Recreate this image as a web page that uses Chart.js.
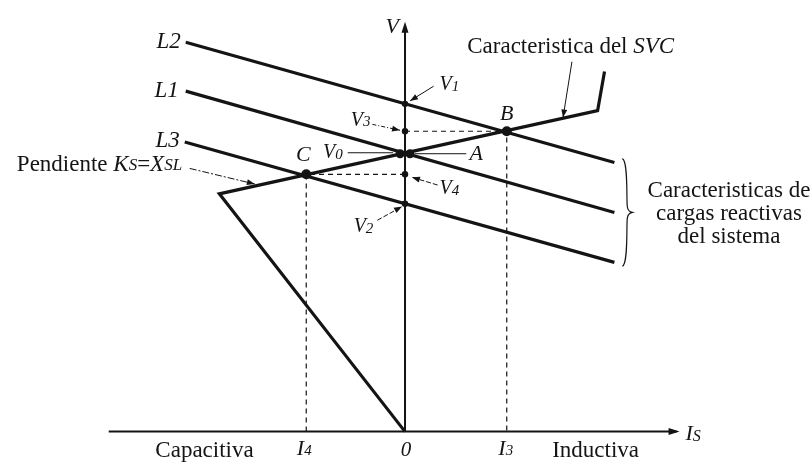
<!DOCTYPE html>
<html>
<head>
<meta charset="utf-8">
<script src="https://cdn.jsdelivr.net/npm/chart.js@4/dist/chart.umd.min.js"></script>
<style>
  html, body { margin: 0; background: #fff; }
  canvas { display: block; }
</style>
</head>
<body>
<canvas id="svcChart" width="812" height="465"></canvas>
<script>
// Coordinates: x = current Is, y = voltage V, both measured from the axes origin
const axisI = [[-300, 0], [275, 0]];
const axisV = [[0, 0], [0, 413]];

// System load lines (L2 highest, L3 lowest)
const lineL2 = [[-222, 398], [212, 275]];
const lineL1 = [[-222, 348], [212, 224]];
const lineL3 = [[-223, 296], [212, 173]];

// SVC characteristic
const svcCurve = [[0, 0], [-188, 243], [195, 328], [202, 368]];

// Operating points
const ptB = [103, 307];
const ptC = [-100, 263];
const levelV0 = 284;
const levelV1 = 335;
const levelV2 = 233;
const levelV3 = 307;
const levelV4 = 263;

// Dashed projections
const guideB = [[0, levelV3], ptB, [ptB[0], 0]];
const guideC = [[0, levelV4], ptC, [ptC[0], 0]];

const INK = '#141414';
const SERIF = "'Liberation Serif', 'DejaVu Serif', serif";

function toXY(arr) { return arr.map(p => ({ x: p[0], y: p[1] })); }

function lineSet(data, width, dash) {
    return {
        data: toXY(data),
        showLine: true,
        borderColor: INK,
        borderWidth: width,
        borderDash: dash || [],
        pointRadius: 0,
        tension: 0,
        fill: false
    };
}

function dotSet(points, radius) {
    return {
        data: toXY(points),
        showLine: false,
        pointRadius: radius,
        pointBackgroundColor: INK,
        pointBorderWidth: 0
    };
}

// Text labels: parts are [text, size, italic, dy]
const labels = [
    { at: [-227, 398], align: 'right', parts: [['L2', 23, true, 0]] },
    { at: [-229, 348], align: 'right', parts: [['L1', 23, true, 0]] },
    { at: [-228, 297], align: 'right', parts: [['L3', 23, true, 0]] },
    { at: [-393, 273], align: 'left', parts: [['Pendiente ', 23, false, 0], ['K', 23, true, 0], ['S', 17, true, 1], ['=', 23, false, 0], ['X', 23, true, 0], ['SL', 17, true, 1]] },
    { at: [-103, 282], align: 'center', parts: [['C', 22, true, 0]] },
    { at: [-83, 285], align: 'left', parts: [['V', 20, true, 0], ['0', 15, true, 2]] },
    { at: [72, 283], align: 'center', parts: [['A', 22, true, 0]] },
    { at: [35, 354], align: 'left', parts: [['V', 20, true, 0], ['1', 15, true, 2]] },
    { at: [-55, 318], align: 'left', parts: [['V', 20, true, 0], ['3', 15, true, 2]] },
    { at: [103, 324], align: 'center', parts: [['B', 22, true, 0]] },
    { at: [35, 248], align: 'left', parts: [['V', 20, true, 0], ['4', 15, true, 2]] },
    { at: [-52, 209], align: 'left', parts: [['V', 20, true, 0], ['2', 15, true, 2]] },
    { at: [-13, 413], align: 'center', parts: [['V', 22, true, 0]] },
    { at: [63, 393], align: 'left', parts: [['Caracteristica del ', 23, false, 0], ['SVC', 23, true, 0]] },
    { at: [328, 246], align: 'center', parts: [['Caracteristicas de', 23, false, 0]] },
    { at: [328, 222], align: 'center', parts: [['cargas reactivas', 23, false, 0]] },
    { at: [328, 199], align: 'center', parts: [['del sistema', 23, false, 0]] },
    { at: [-203, -20], align: 'center', parts: [['Capacitiva', 23, false, 0]] },
    { at: [-102, -18], align: 'center', parts: [['I', 22, true, 0], ['4', 15, true, 2]] },
    { at: [1, -19], align: 'center', parts: [['0', 21, true, 0]] },
    { at: [102, -18], align: 'center', parts: [['I', 22, true, 0], ['3', 15, true, 2]] },
    { at: [193, -20], align: 'center', parts: [['Inductiva', 23, false, 0]] },
    { at: [284, -3], align: 'left', parts: [['I', 22, true, 0], ['S', 16, true, 2]] }
];

// Leader lines: from, to, dash, arrowhead at "to"
const leaders = [
    { from: [-218, 269], to: [-152, 253], dash: [7, 2, 2, 2], head: true },
    { from: [-58, 285], to: [-12, 285], dash: [], head: false },
    { from: [62, 284], to: [10, 284], dash: [], head: false },
    { from: [29, 353], to: [5, 338], dash: [], head: true },
    { from: [-33, 314], to: [-5, 308], dash: [4, 2, 1, 2], head: true },
    { from: [169, 378], to: [160, 321], dash: [], head: true },
    { from: [33, 252], to: [7, 260], dash: [5, 2], head: true },
    { from: [-28, 216], to: [-3, 230], dash: [5, 2], head: true }
];

// Axis arrow tips
const axisTips = [
    { tip: [0, 419], dir: [0, 1] },
    { tip: [278, 0], dir: [1, 0] }
];

// Brace beside the load lines
const brace = { x: 220, top: 279, bottom: 169, mid: 224, depth: 10 };

function drawRich(ctx, parts, x, y, align) {
    let total = 0;
    const widths = parts.map(p => {
        ctx.font = (p[2] ? 'italic ' : '') + p[1] + 'px ' + SERIF;
        const w = ctx.measureText(p[0]).width;
        total += w;
        return w;
    });
    let cx = align === 'right' ? x - total : align === 'center' ? x - total / 2 : x;
    ctx.textAlign = 'left';
    ctx.textBaseline = 'middle';
    parts.forEach((p, i) => {
        ctx.font = (p[2] ? 'italic ' : '') + p[1] + 'px ' + SERIF;
        ctx.fillText(p[0], cx, y + p[3]);
        cx += widths[i];
    });
}

function arrowHead(ctx, x1, y1, x2, y2, len, half) {
    const a = Math.atan2(y2 - y1, x2 - x1);
    ctx.beginPath();
    ctx.moveTo(x2, y2);
    ctx.lineTo(x2 - len * Math.cos(a) + half * Math.sin(a), y2 - len * Math.sin(a) - half * Math.cos(a));
    ctx.lineTo(x2 - len * Math.cos(a) - half * Math.sin(a), y2 - len * Math.sin(a) + half * Math.cos(a));
    ctx.closePath();
    ctx.fill();
}

const annotations = {
    id: 'annotations',
    afterDatasetsDraw(chart) {
        const ctx = chart.ctx;
        const sx = v => chart.scales.x.getPixelForValue(v);
        const sy = v => chart.scales.y.getPixelForValue(v);
        ctx.save();
        ctx.fillStyle = INK;
        ctx.strokeStyle = INK;

        axisTips.forEach(t => {
            const x2 = sx(t.tip[0]), y2 = sy(t.tip[1]);
            const x1 = sx(t.tip[0] - t.dir[0] * 20), y1 = sy(t.tip[1] - t.dir[1] * 20);
            arrowHead(ctx, x1, y1, x2, y2, 11, 3.5);
        });

        ctx.lineWidth = 1;
        leaders.forEach(l => {
            const x1 = sx(l.from[0]), y1 = sy(l.from[1]);
            const x2 = sx(l.to[0]), y2 = sy(l.to[1]);
            ctx.setLineDash(l.dash);
            ctx.beginPath();
            ctx.moveTo(x1, y1);
            ctx.lineTo(x2, y2);
            ctx.stroke();
            ctx.setLineDash([]);
            if (l.head) arrowHead(ctx, x1, y1, x2, y2, 8, 3);
        });

        // brace
        const bx = sx(brace.x), bt = sy(brace.top), bb = sy(brace.bottom), bm = sy(brace.mid);
        const d = brace.depth;
        ctx.lineWidth = 1.2;
        ctx.beginPath();
        ctx.moveTo(bx, bt);
        ctx.bezierCurveTo(bx + d * 0.6, bt + 2, bx + d * 0.4, bm - 12, bx + d * 0.5, bm - 6);
        ctx.quadraticCurveTo(bx + d * 0.55, bm - 1, bx + d, bm);
        ctx.quadraticCurveTo(bx + d * 0.55, bm + 1, bx + d * 0.5, bm + 6);
        ctx.bezierCurveTo(bx + d * 0.4, bm + 12, bx + d * 0.6, bb - 2, bx, bb);
        ctx.stroke();

        labels.forEach(l => drawRich(ctx, l.parts, sx(l.at[0]), sy(l.at[1]), l.align));
        ctx.restore();
    }
};

new Chart(document.getElementById('svcChart').getContext('2d'), {
    type: 'scatter',
    data: {
        datasets: [
            lineSet(axisI, 2),
            lineSet(axisV, 2),
            lineSet(guideB, 1.2, [5, 4]),
            lineSet(guideC, 1.2, [5, 4]),
            lineSet(lineL2, 3.2),
            lineSet(lineL1, 3.2),
            lineSet(lineL3, 3.2),
            lineSet(svcCurve, 3.2),
            dotSet([ptB, ptC], 5),
            dotSet([[-5, levelV0], [5, levelV0]], 4.5),
            dotSet([[0, levelV1], [0, levelV2], [0, levelV3], [0, levelV4]], 3.2)
        ]
    },
    options: {
        responsive: false,
        animation: false,
        layout: { padding: 0 },
        plugins: { legend: { display: false }, tooltip: { enabled: false } },
        scales: {
            x: { type: 'linear', display: false, min: -405, max: 407 },
            y: { type: 'linear', display: false, min: -29, max: 436 }
        }
    },
    plugins: [annotations]
});
</script>
</body>
</html>
